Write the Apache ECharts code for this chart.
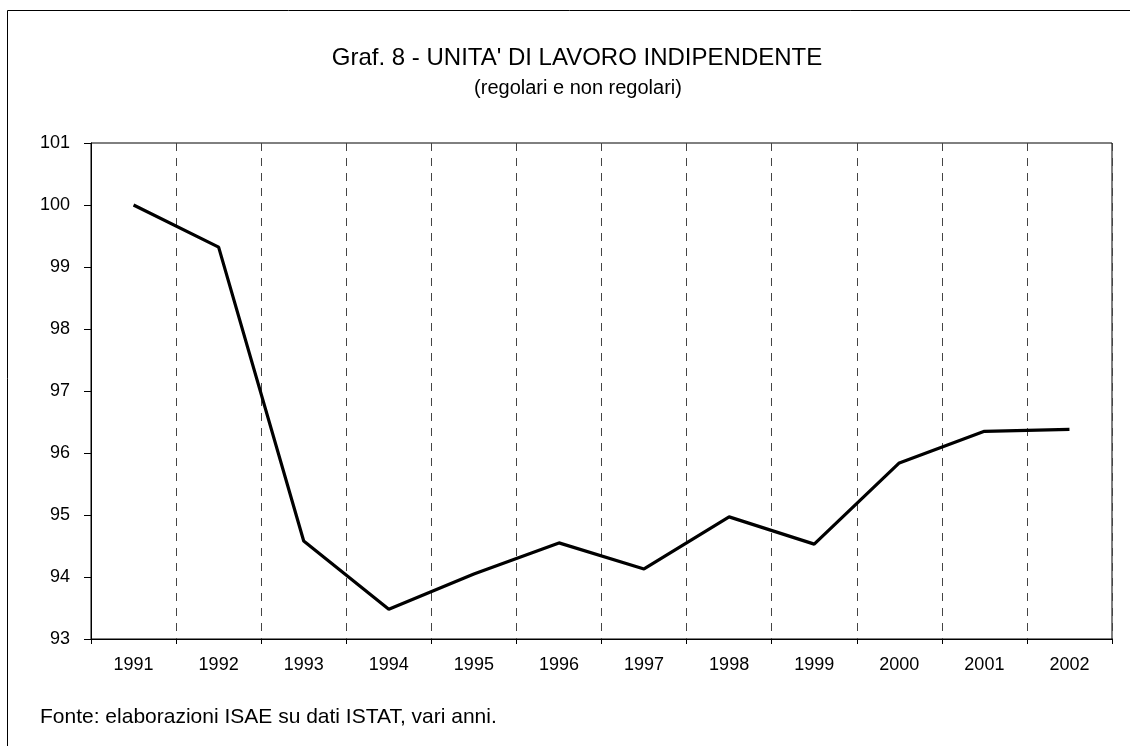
<!DOCTYPE html>
<html>
<head>
<meta charset="utf-8">
<script src="https://cdn.jsdelivr.net/npm/echarts@6/dist/echarts.min.js"></script>
<style>
  html, body { margin: 0; padding: 0; background: #fff; }
  #chart { width: 1130px; height: 746px; }
</style>
</head>
<body>
<div id="chart"></div>
<script>
  // anni e indice (1991 = 100)
  const years = ['1991', '1992', '1993', '1994', '1995', '1996', '1997', '1998', '1999', '2000', '2001', '2002']
  const unitaLavoro = [100, 99.32, 94.58, 93.48, 94.05, 94.55, 94.13, 94.97, 94.53, 95.84, 96.35, 96.38]
  const titleText = "Graf. 8 - UNITA' DI LAVORO INDIPENDENTE"
  const subText = '(regolari e non regolari)'
  const sourceText = 'Fonte: elaborazioni ISAE su dati ISTAT, vari anni.'

  const font = '"Liberation Sans", Arial, sans-serif'
  const chart = echarts.init(document.getElementById('chart'), null, { renderer: 'canvas' })

  const option = {
    backgroundColor: '#fff',
    animation: false,
    title: [{
      text: titleText,
      left: 577,
      top: 46,
      padding: 0,
      textAlign: 'center',
      textStyle: { fontFamily: font, fontSize: 24, fontWeight: 'normal', color: '#000' }
    }, {
      text: subText,
      left: 578,
      top: 78,
      padding: 0,
      textAlign: 'center',
      textStyle: { fontFamily: font, fontSize: 20, fontWeight: 'normal', color: '#000' }
    }, {
      text: sourceText,
      left: 40,
      top: 707,
      padding: 0,
      textStyle: { fontFamily: font, fontSize: 21, fontWeight: 'normal', color: '#000' }
    }],
    graphic: [{
      type: 'rect',
      shape: { x: 7.5, y: 10.5, width: 1200, height: 800 },
      style: { fill: 'none', stroke: '#000', lineWidth: 1 },
      silent: true
    }],
    grid: {
      left: 91,
      right: 18,
      top: 143,
      bottom: 107,
      show: true,
      borderColor: '#000',
      borderWidth: 1
    },
    xAxis: {
      type: 'category',
      data: years,
      boundaryGap: true,
      axisLine: { lineStyle: { color: '#000', width: 1 } },
      axisTick: { show: true, length: 5, lineStyle: { color: '#000' } },
      axisLabel: { color: '#000', fontFamily: font, fontSize: 18, margin: 17 },
      splitLine: {
        show: true,
        lineStyle: { color: '#444', width: 1, type: [8, 7] }
      }
    },
    yAxis: {
      type: 'value',
      min: 93,
      max: 101,
      interval: 1,
      axisLine: { show: true, lineStyle: { color: '#000', width: 1 } },
      axisTick: { show: true, length: 7, lineStyle: { color: '#000' } },
      axisLabel: { color: '#000', fontFamily: font, fontSize: 18, margin: 21 },
      splitLine: { show: false }
    },
    series: [{
      type: 'line',
      data: unitaLavoro,
      symbol: 'none',
      lineStyle: { color: '#000', width: 3.2 }
    }]
  }

  chart.setOption(option)
</script>
</body>
</html>
